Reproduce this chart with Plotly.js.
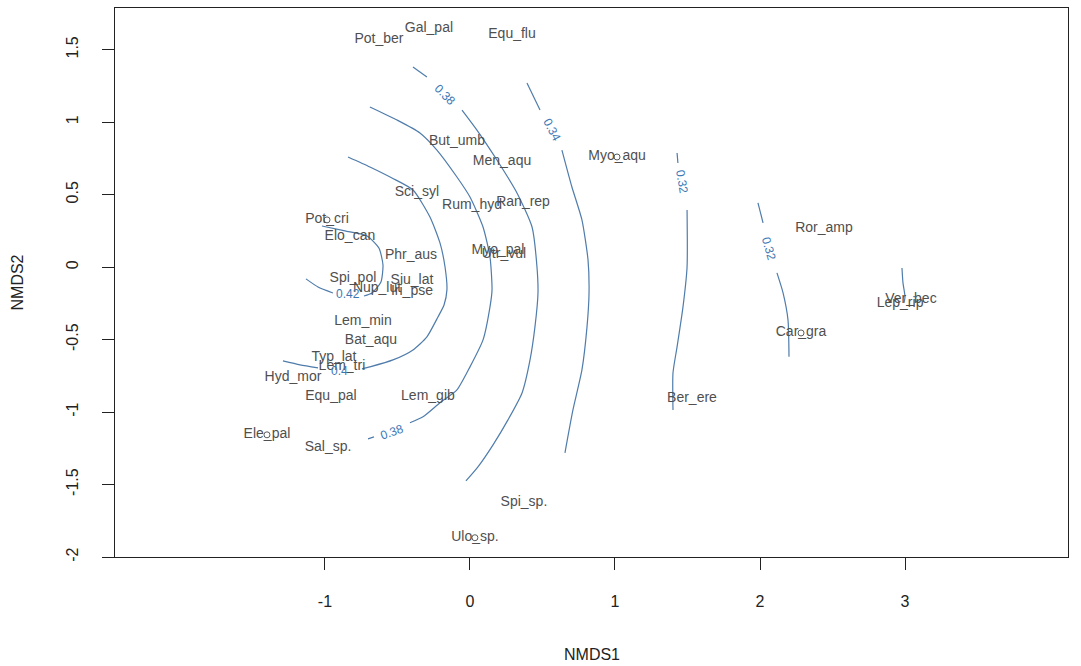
<!DOCTYPE html>
<html><head><meta charset="utf-8">
<script src="https://cdn.plot.ly/plotly-3.0.1.min.js"></script>
<style>html,body{margin:0;padding:0;background:#fff;}</style>
</head><body><div id="chart" style="width:1081px;height:666px;"></div>
<script>
// Species scores (NMDS1, NMDS2)
const species = ["Pot_ber","Gal_pal","Equ_flu","But_umb","Men_aqu","Myo_aqu","Sci_syl","Rum_hyd","Ran_rep",
  "Pot_cri","Elo_can","Phr_aus","Myo_pal","Utr_vul","Spi_pol","Siu_lat","Nup_lut","Iri_pse","Lem_min","Bat_aqu",
  "Typ_lat","Lem_tri","Hyd_mor","Equ_pal","Lem_gib","Ele_pal","Sal_sp.","Spi_sp.","Ulo_sp.","Ber_ere","Ror_amp",
  "Car_gra","Ver_bec","Lep_rip"];
const nmds1 = [-0.628,-0.283,0.290,-0.090,0.221,1.014,-0.366,0.014,0.366,
  -0.986,-0.828,-0.407,0.193,0.234,-0.807,-0.400,-0.641,-0.400,-0.738,-0.683,
  -0.938,-0.883,-1.221,-0.959,-0.290,-1.400,-0.979,0.372,0.034,1.531,2.441,
  2.283,3.041,2.966];
const nmds2 = [1.574,1.650,1.608,0.870,0.732,0.760,0.512,0.422,0.443,
  0.326,0.208,0.077,0.112,0.084,-0.081,-0.095,-0.150,-0.171,-0.378,-0.509,
  -0.626,-0.688,-0.764,-0.895,-0.895,-1.157,-1.247,-1.626,-1.867,-0.909,0.270,
  -0.454,-0.220,-0.254];
// species that also carry a point symbol
const pointSpecies = ["Pot_cri","Ele_pal","Myo_aqu","Car_gra","Ulo_sp."];

// Fitted surface contour lines (null = label gap)
const c1x = [-1.021,-0.862,-0.710,-0.628,-0.600,-0.614,-0.676,-0.731,null,-0.945,-1.048,-1.131];
const c1y = [0.284,0.250,0.215,0.132,0.015,-0.102,-0.178,-0.199,null,-0.178,-0.137,-0.081];
const c2x = [-0.841,-0.690,-0.538,-0.393,-0.276,-0.207,-0.172,-0.159,-0.179,-0.221,-0.297,-0.393,-0.531,-0.690,-0.745,null,-1.048,-1.172,-1.290];
const c2y = [0.760,0.691,0.615,0.532,0.346,0.167,0.001,-0.157,-0.261,-0.344,-0.481,-0.571,-0.640,-0.688,-0.702,null,-0.695,-0.674,-0.647];
const c3x = [-0.690,-0.503,-0.345,-0.228,-0.090,0.000,0.090,0.138,0.152,0.138,0.090,0.000,-0.090,-0.207,-0.324,-0.414,null,-0.662,-0.703];
const c3y = [1.105,1.015,0.926,0.808,0.622,0.484,0.277,0.070,-0.157,-0.274,-0.502,-0.688,-0.847,-0.936,-1.033,-1.074,null,-1.171,-1.185];
const c4x = [-0.393,-0.297,null,-0.055,0.048,0.186,0.324,0.428,0.462,0.469,0.448,0.414,0.359,0.262,0.159,0.055,-0.028];
const c4y = [1.381,1.312,null,1.084,0.946,0.739,0.512,0.277,0.001,-0.178,-0.412,-0.640,-0.868,-1.054,-1.226,-1.378,-1.475];
const c5x = [0.393,0.483,null,0.634,0.703,0.772,0.814,0.821,0.807,0.772,0.710,0.655];
const c5y = [1.270,1.084,null,0.808,0.553,0.326,0.050,-0.178,-0.412,-0.709,-0.985,-1.281];
const c6x = [1.428,1.434,null,1.497,1.497,1.469,1.428,1.400,1.400];
const c6y = [0.788,0.719,null,0.394,0.001,-0.274,-0.550,-0.729,-0.985];
const c7x = [1.986,2.021,null,2.117,2.159,2.193,2.200];
const c7y = [0.443,0.305,null,-0.040,-0.178,-0.364,-0.619];
const c8x = [2.979,2.986,3.000,2.993];
const c8y = [-0.006,-0.109,-0.206,-0.247];

// Contour labels
const labText = ["0.42","0.4","0.38","0.38","0.34","0.32","0.32"];
const labX = [-0.841,-0.897,-0.538,-0.172,0.566,1.462,2.062];
const labY = [-0.185,-0.716,-1.136,1.188,0.946,0.588,0.126];
const labAngle = [0,0,-20,45,62,80,74];

const xTicks = [-1,0,1,2,3];
const yTicks = [-2,-1.5,-1,-0.5,0,0.5,1,1.5];
const yTickText = ["-2","-1.5","-1","-0.5","0","0.5","1","1.5"];

const lineCol = "#4f7cab";
const labCol = "#3b77b5";
const txtCol = "#4f4f4f";
const FONT = "Liberation Sans, Arial, sans-serif";

const contours = [[c1x,c1y],[c2x,c2y],[c3x,c3y],[c4x,c4y],[c5x,c5y],[c6x,c6y],[c7x,c7y],[c8x,c8y]];
const traces = contours.map(c => ({
  type:"scatter", mode:"lines", x:c[0], y:c[1], connectgaps:false,
  line:{color:lineCol, width:1.2, shape:"spline", smoothing:0.6}, hoverinfo:"skip", showlegend:false
}));

const px = [], py = [];
pointSpecies.forEach(s => { const i = species.indexOf(s); px.push(nmds1[i]); py.push(nmds2[i]); });
traces.push({type:"scatter", mode:"markers", x:px, y:py, showlegend:false, hoverinfo:"skip",
  marker:{symbol:"circle-open", size:6, color:"#5a5a5a", line:{width:1}}});

traces.push({type:"scatter", mode:"text", x:nmds1, y:nmds2, text:species, showlegend:false, hoverinfo:"skip",
  textposition:"middle center", textfont:{family:FONT, size:14, color:txtCol}});

const annotations = labText.map((t,i) => ({
  x:labX[i], y:labY[i], xref:"x", yref:"y", text:t, showarrow:false, textangle:labAngle[i],
  font:{family:FONT, size:12, color:labCol}, xanchor:"center", yanchor:"middle"
}));
annotations.push({xref:"paper", yref:"paper", x:0.5, y:-0.1785, text:"NMDS1", showarrow:false,
  font:{family:FONT, size:16, color:"#222"}, xanchor:"center", yanchor:"middle"});
annotations.push({xref:"paper", yref:"paper", x:-0.1018, y:0.5, text:"NMDS2", showarrow:false, textangle:-90,
  font:{family:FONT, size:16, color:"#222"}, xanchor:"center", yanchor:"middle"});

const layout = {
  width:1081, height:666,
  margin:{l:115, r:13, t:8, b:109, pad:0},
  paper_bgcolor:"#fff", plot_bgcolor:"#fff",
  showlegend:false, hovermode:false,
  xaxis:{range:[-2.448,4.124], tickvals:xTicks, ticktext:xTicks.map(String), ticks:"outside", ticklen:12, tickwidth:1,
    tickcolor:"#222", showline:true, linecolor:"#222", linewidth:1, mirror:true, showgrid:false, zeroline:false,
    tickfont:{family:FONT, size:16, color:"#222"}, ticklabelstandoff:18, fixedrange:true},
  yaxis:{range:[-2.0, 1.788], tickvals:yTicks, ticktext:yTickText, ticks:"outside", ticklen:12, tickwidth:1,
    tickcolor:"#222", showline:true, linecolor:"#222", linewidth:1, mirror:true, showgrid:false, zeroline:false,
    tickangle:-90, tickfont:{family:FONT, size:16, color:"#222"}, ticklabelstandoff:18, fixedrange:true},
  annotations:annotations
};
Plotly.newPlot("chart", traces, layout, {displayModeBar:false, staticPlot:true});
</script></body></html>
